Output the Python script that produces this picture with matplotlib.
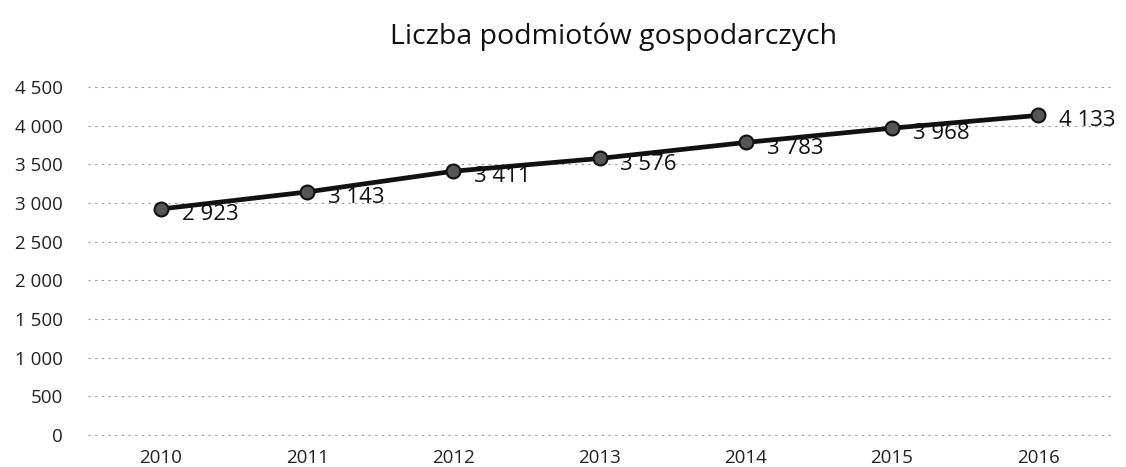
import matplotlib.pyplot as plt
from matplotlib.ticker import FuncFormatter

years = ['2010', '2011', '2012', '2013', '2014', '2015', '2016']
values = [2923, 3143, 3411, 3576, 3783, 3968, 4133]
y_ticks = [0, 500, 1000, 1500, 2000, 2500, 3000, 3500, 4000, 4500]


def fmt(v, pos=None):
    return '{:,}'.format(int(v)).replace(',', ' ')


plt.rcParams['font.family'] = ['Open Sans', 'DejaVu Sans']

fig = plt.figure(figsize=(11.26, 4.67), dpi=100)
ax = fig.add_axes([0.078, 0.0685, 0.909, 0.7452])

x = list(range(len(years)))
ax.plot(x, values, color='#111111', linewidth=3.4, marker='o', markersize=10,
        markerfacecolor='#555555', markeredgecolor='#111111', markeredgewidth=1.5, zorder=3)

# data labels, right of each point
for xi, v in zip(x, values):
    ax.annotate(fmt(v), (xi, v), xytext=(15, -4), textcoords='offset points',
                fontsize=16, va='center', ha='left', color='#111111', zorder=4)

ax.set_xlim(-0.5, len(years) - 0.5)
ax.set_ylim(0, 4500)
ax.set_yticks(y_ticks)
ax.yaxis.set_major_formatter(FuncFormatter(fmt))
ax.set_xticks(x)
ax.set_xticklabels(years)
ax.grid(axis='y', color='#999999', linestyle=(0, (2, 4)), linewidth=0.8)
for gl in ax.get_ygridlines():
    gl.set_clip_on(False)
ax.set_axisbelow(True)
for s in ax.spines.values():
    s.set_visible(False)
ax.tick_params(axis='both', length=0, labelsize=13.5, colors='#222222')
ax.tick_params(axis='y', pad=18)
ax.tick_params(axis='x', pad=10)

fig.text(0.545, 0.922, 'Liczba podmiotów gospodarczych', ha='center', va='center',
         fontsize=20.5, color='#111111')

fig.savefig('out.png', dpi=100)
